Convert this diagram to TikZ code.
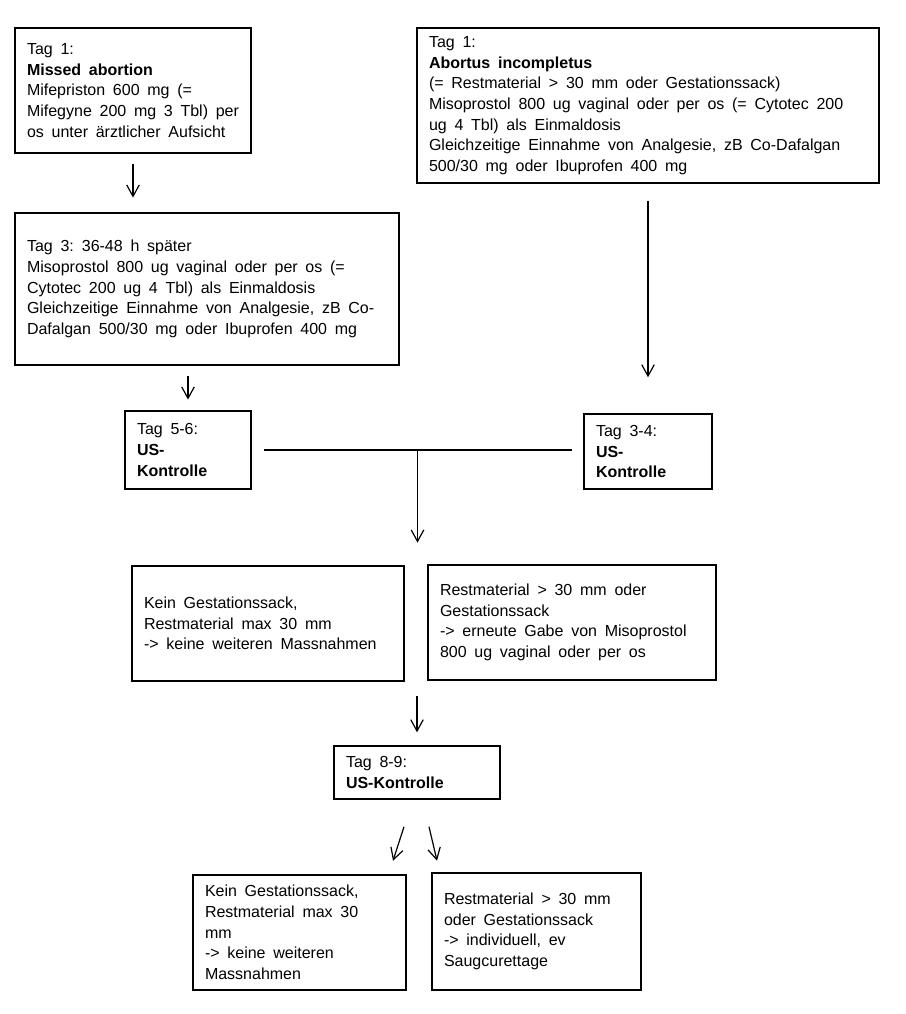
\documentclass[tikz,border=0pt]{standalone}
\usepackage{fontspec}
\setmainfont{Liberation Sans}
\usetikzlibrary{arrows.meta,calc}
\newcommand{\weitwort}{\spaceskip=5.8pt plus 1pt minus 0.5pt\relax}
\tikzset{
  kasten/.style={draw,line width=1.1pt,align=left,inner xsep=9pt,inner ysep=0pt,
    font=\fontsize{12}{15.5}\selectfont,execute at begin node=\weitwort},
  pfeil/.style={-{Straight Barb[length=3mm,width=3.3mm]},line width=0.9pt},
  linie/.style={line width=0.9pt},
}

\begin{document}
\begin{tikzpicture}[x=0.75pt,y=-0.75pt]
  \useasboundingbox (0,0) rectangle (906,1014);
  % linker Strang: missed abortion
  \node[kasten,text width=159pt,minimum height=93.75pt] (missed) at (133,90.5)
    {Tag 1:\\ \textbf{Missed abortion}\\ Mifepriston 600 mg (=\\ Mifegyne 200 mg 3 Tbl) per\\ os unter ärztlicher Aufsicht};
  \node[kasten,text width=270pt,minimum height=114pt] (tag3) at (207,289)
    {Tag 3: 36-48 h später\\ Misoprostol 800 ug vaginal oder per os (=\\ Cytotec 200 ug 4 Tbl) als Einmaldosis\\ Gleichzeitige Einnahme von Analgesie, zB Co-\\ Dafalgan 500/30 mg oder Ibuprofen 400 mg};
  \node[kasten,text width=76.5pt,minimum height=58.5pt] (us56) at (188,450)
    {Tag 5-6:\\ \textbf{US-}\\ \textbf{Kontrolle}};
  % rechter Strang: abortus incompletus
  \node[kasten,text width=328.5pt,minimum height=116.25pt] (incompl) at (648,105.5)
    {Tag 1:\\ \textbf{Abortus incompletus}\\ (= Restmaterial > 30 mm oder Gestationssack)\\ Misoprostol 800 ug vaginal oder per os (= Cytotec 200\\ ug 4 Tbl) als Einmaldosis\\ Gleichzeitige Einnahme von Analgesie, zB Co-Dafalgan\\ 500/30 mg oder Ibuprofen 400 mg};
  \node[kasten,text width=78pt,minimum height=56.25pt] (us34) at (648,451.5)
    {Tag 3-4:\\ \textbf{US-}\\ \textbf{Kontrolle}};
  % erste Kontrolle
  \node[kasten,text width=186pt,minimum height=86.25pt] (leer1) at (268,623.5)
    {Kein Gestationssack,\\ Restmaterial max 30 mm\\ -> keine weiteren Massnahmen};
  \node[kasten,text width=198pt,minimum height=86.25pt] (rest1) at (572,622.5)
    {Restmaterial > 30 mm oder\\ Gestationssack\\ -> erneute Gabe von Misoprostol\\ 800 ug vaginal oder per os};
  \node[kasten,text width=106.5pt,minimum height=39.75pt] (us89) at (417,772.5)
    {Tag 8-9:\\ \textbf{US-Kontrolle}};
  % zweite Kontrolle
  \node[kasten,text width=141.75pt,minimum height=86.25pt] (leer2) at (299.5,932.5)
    {Kein Gestationssack,\\ Restmaterial max 30\\ mm\\ -> keine weiteren\\ Massnahmen};
  \node[kasten,text width=138.75pt,minimum height=87.75pt] (rest2) at (536.5,931.5)
    {Restmaterial > 30 mm\\ oder Gestationssack\\ -> individuell, ev\\ Saugcurettage};

  \draw[pfeil,shorten <=7.5pt,shorten >=11pt] (missed.south) -- (missed.south |- tag3.north);
  \draw[pfeil,shorten <=7.5pt,shorten >=8pt] (us56.north |- tag3.south) -- (us56.north);
  \draw[pfeil,shorten <=12.75pt,shorten >=27pt] (us34.north |- incompl.south) -- (us34.north);
  \draw[linie,shorten <=9pt,shorten >=8.25pt] (us56.east) -- (us56.east -| us34.west);
  \coordinate (abzweig) at ($(us56.east)!.5!(us56.east -| us34.west)$);
  \draw[pfeil,shorten >=17pt] (abzweig) -- (abzweig |- leer1.north);
  \draw[pfeil,shorten <=10.5pt,shorten >=9.75pt] (us89.north |- leer1.south) -- (us89.north);
  \draw[pfeil] ($(us89.south)+(-13,27)$) -- ($(us89.south)+(-24,61)$);
  \draw[pfeil] ($(us89.south)+(12,27)$) -- ($(us89.south)+(20,61)$);
\end{tikzpicture}
\end{document}
